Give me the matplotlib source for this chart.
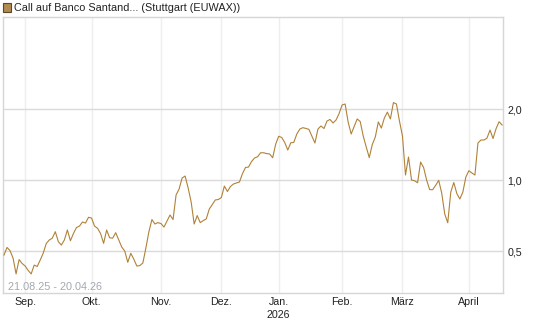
import matplotlib
matplotlib.use("Agg")
import matplotlib.pyplot as plt
from matplotlib.patches import Rectangle
from matplotlib.ticker import FixedLocator, NullLocator
import numpy as np
import pandas as pd

plt.rcParams['font.family'] = ['Liberation Sans', 'DejaVu Sans']

title = "Call auf Banco Santand... (Stuttgart (EUWAX))"
range_text = "21.08.25 - 20.04.26"
start, end = "2025-08-21", "2026-04-20"
holidays = ["2025-12-24", "2025-12-25", "2025-12-26", "2025-12-31",
            "2026-01-01", "2026-04-03", "2026-04-06"]

# one value per trading day
prices = [
    0.481, 0.518, 0.502, 0.467, 0.40, 0.460, 0.443, 0.432, 0.414, 0.40,
    0.436, 0.43, 0.458, 0.49, 0.538, 0.557, 0.567, 0.604, 0.548, 0.53,
    0.557, 0.614, 0.553, 0.593, 0.629, 0.638, 0.664, 0.657, 0.695, 0.69,
    0.638, 0.624, 0.593, 0.539, 0.614, 0.569, 0.567, 0.598, 0.557, 0.52,
    0.50, 0.448, 0.489, 0.462, 0.432, 0.434, 0.445, 0.515, 0.604, 0.68,
    0.651, 0.66, 0.654, 0.632, 0.67, 0.711, 0.68, 0.864, 0.916, 1.02,
    1.04, 0.925, 0.807, 0.651, 0.707, 0.66, 0.673, 0.684, 0.753, 0.788,
    0.823, 0.827, 0.843, 0.943, 0.894, 0.938, 0.962, 0.971, 0.981, 1.065,
    1.13, 1.135, 1.198, 1.24, 1.255, 1.305, 1.305, 1.295, 1.289, 1.243,
    1.42, 1.533, 1.515, 1.442, 1.34, 1.438, 1.445, 1.567, 1.645, 1.667,
    1.655, 1.64, 1.536, 1.435, 1.645, 1.695, 1.653, 1.779, 1.806, 1.745,
    1.797, 1.913, 2.08, 2.10, 1.763, 1.567, 1.685, 1.815, 1.77, 1.536,
    1.38, 1.245, 1.414, 1.522, 1.763, 1.66, 1.833, 1.94, 1.815, 2.13,
    2.10, 1.779, 1.536, 1.05, 1.252, 1.0, 0.993, 0.974, 1.192, 1.13,
    1.0, 0.911, 0.91, 0.95, 0.997, 0.88, 0.718, 0.659, 0.889, 0.976,
    0.877, 0.831, 0.889, 1.03, 1.095, 1.071, 1.05, 1.435, 1.478, 1.478,
    1.506, 1.629, 1.50, 1.65, 1.767, 1.711,
]

month_names = ["Sep.", "Okt.", "Nov.", "Dez.", "Jan.\n2026", "Feb.", "März", "April"]
y_ticks = [0.5, 1.0, 2.0]
y_labels = ["0,5", "1,0", "2,0"]

days = pd.bdate_range(start, end)
days = days[~days.isin(pd.to_datetime(holidays))]
x = np.arange(len(days))

# first trading day of each month (skip the partial August)
first = [i for i in range(1, len(days)) if days[i].month != days[i - 1].month]

fig = plt.figure(figsize=(5.45, 3.27), dpi=100)
ax = fig.add_axes([3 / 545, 34 / 327, 500 / 545, 276 / 327])

ax.plot(x, prices, color='#b08238', lw=0.8, zorder=3)

ax.set_yscale('log', base=2)
ax.set_ylim(0.332, 4.91)
ax.set_xlim(-0.33, 165.3)

ax.yaxis.set_major_locator(FixedLocator(y_ticks))
ax.yaxis.set_minor_locator(NullLocator())
ax.set_yticklabels(y_labels)
ax.yaxis.tick_right()
ax.set_xticks(first)
ax.set_xticklabels(month_names, linespacing=1.3)

ax.tick_params(axis='both', length=0, labelsize=7.7, colors='#222222')
ax.tick_params(axis='y', pad=3.2)
ax.tick_params(axis='x', pad=3)

ax.grid(axis='y', color='#dadada', lw=1.0)
ax.grid(axis='x', color='#eeeeee', lw=1.0)
ax.set_axisbelow(True)
for s in ax.spines.values():
    s.set_color('#d6d6d6')
    s.set_linewidth(1.0)

ax.text(0.009, 0.011, range_text, transform=ax.transAxes, fontsize=7.8,
        color='#a3a8b0', ha='left', va='baseline')

fig.patches.append(Rectangle((3 / 545, 1 - 11.5 / 327), 8 / 545, 8 / 327,
                             transform=fig.transFigure, facecolor='#b38b52',
                             edgecolor='#5e4526', lw=0.8))
fig.text(14 / 545, 1 - 8 / 327, title, fontsize=7.8, color='#222222',
         ha='left', va='center')

fig.savefig("out.png", dpi=100)
